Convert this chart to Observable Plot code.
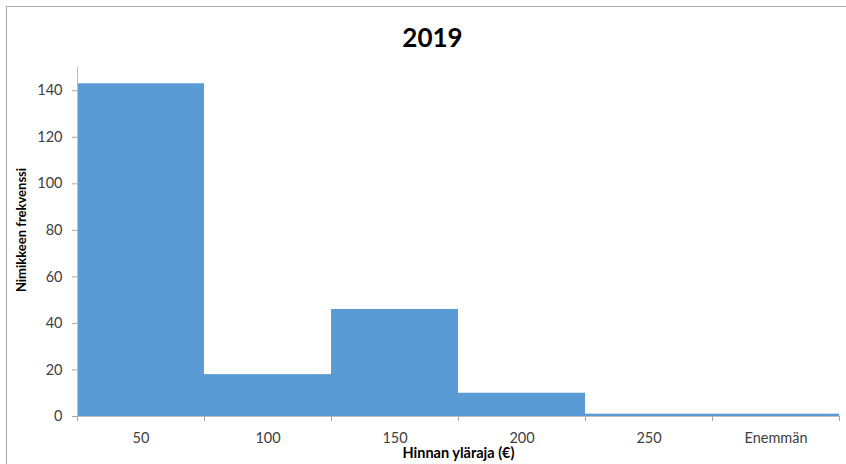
<!DOCTYPE html>
<html><head><meta charset="utf-8">
<script src="https://cdn.jsdelivr.net/npm/d3@7"></script>
<script src="https://cdn.jsdelivr.net/npm/@observablehq/plot@0.6"></script>
<style>
body{margin:0;background:#fff;}
#wrap{position:relative;width:846px;height:464px;overflow:hidden;}
#frame{position:absolute;left:6px;top:6px;width:900px;height:600px;border:1px solid #a6a6a6;box-sizing:border-box;}
#chart{position:absolute;left:0;top:0;}
</style></head><body>
<div id="wrap"><div id="frame"></div><div id="chart"></div></div>
<script>
const categories = ["50", "100", "150", "200", "250", "Enemmän"];
const counts = [143, 18, 46, 10, 1, 1];
const yTicks = [0, 20, 40, 60, 80, 100, 120, 140];
const title = "2019";
const yLabel = "Nimikkeen frekvenssi";
const xLabel = "Hinnan yläraja (€)";

const data = categories.map((c, i) => ({i, cat: c, count: counts[i]}));
const boundaries = d3.range(categories.length + 1);
const font = "Lato, 'Open Sans', sans-serif";

const chart = Plot.plot({
  width: 846, height: 464,
  marginLeft: 77, marginRight: 7, marginTop: 67, marginBottom: 48,
  style: {fontFamily: font, fontSize: "14px", color: "#404040", background: "transparent"},
  x: {domain: [0, categories.length]},
  y: {domain: [0, 150]},
  marks: [
    Plot.ruleY([0], {stroke: "#bfbfbf", strokeWidth: 1}),
    Plot.rectY(data, {x1: "i", x2: d => d.i + 1, y: "count", fill: "#5B9BD5", inset: 0}),
    Plot.ruleX([0], {stroke: "#bfbfbf", strokeWidth: 1}),
    Plot.axisY({ticks: yTicks, tickSize: 5, tickPadding: 10, label: null, stroke: "#a6a6a6", fill: "#404040", fontSize: 14.5}),
    Plot.axisX({ticks: boundaries, tickSize: 5, tickFormat: () => "", label: null, stroke: "#a6a6a6"}),
    Plot.text(data, {x: d => d.i + 0.5, y: 0, text: "cat", dy: 22, fill: "#404040", fontSize: 14.5}),
    Plot.text([title], {frameAnchor: "top", lineAnchor: "middle", dx: -26, dy: -29, fontSize: 26, fontWeight: "bold", fill: "#000"}),
    Plot.text([yLabel], {frameAnchor: "left", textAnchor: "middle", lineAnchor: "middle", dx: -56, dy: -12, rotate: -90, fontSize: 13, fontWeight: "bold", fill: "#000"}),
    Plot.text([xLabel], {frameAnchor: "bottom", lineAnchor: "middle", dy: 37, fontSize: 14.5, fontWeight: "bold", fill: "#000"})
  ]
});
document.getElementById("chart").append(chart);
</script>
</body></html>
